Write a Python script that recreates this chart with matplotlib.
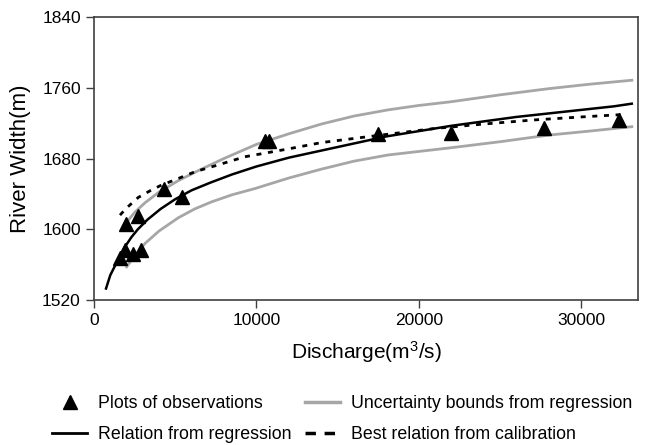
import matplotlib
matplotlib.use("Agg")
import matplotlib.pyplot as plt
from matplotlib.lines import Line2D

plt.rcParams['font.family'] = ['Liberation Sans', 'DejaVu Sans']
plt.rcParams['mathtext.fontset'] = 'custom'
plt.rcParams['mathtext.rm'] = 'Liberation Sans'
plt.rcParams['mathtext.it'] = 'Liberation Sans'

# Observations
obs_q = [1600, 1900, 2400, 2900, 2000, 2700, 4300, 5400, 10500, 10800, 17500, 22000, 27700, 32300]
obs_w = [1568, 1577, 1572, 1576, 1606, 1615, 1646, 1637, 1700, 1700, 1708, 1709, 1715, 1723]

# Relation from regression
reg_q = [740, 1000, 1300, 1600, 1900, 2300, 2700, 3300, 4100, 5000, 6000, 7200, 8500, 10000,
         12000, 14000, 16000, 18000, 20000, 22000, 24000, 26000, 28000, 30000, 32000, 33100]
reg_w = [1533, 1548, 1559, 1569, 1580, 1591, 1600, 1611, 1623, 1634, 1644, 1653, 1662, 1671,
         1681, 1689, 1697, 1705, 1711, 1717, 1722, 1727, 1731, 1735, 1739, 1742]

# Uncertainty bounds from regression
up_q = [2010, 2500, 3140, 4000, 5190, 6500, 8000, 9000, 10000, 12000, 14000, 16000, 18100,
        20000, 21900, 25000, 28000, 30500, 33100]
up_w = [1608, 1619, 1630, 1642, 1655, 1667, 1680, 1688, 1696, 1708, 1719, 1728, 1735,
        1740, 1744, 1752, 1759, 1764, 1768.5]
lo_q = [2010, 2500, 3140, 4000, 5190, 6200, 7240, 8500, 9900, 12000, 14000, 16000, 18100,
        20000, 21900, 25000, 28000, 30500, 33100]
lo_w = [1557.5, 1570, 1584, 1598, 1613, 1623, 1631, 1639, 1646, 1658, 1668, 1677, 1684,
        1688, 1692, 1699, 1706.5, 1711, 1716]

# Best relation from calibration
cal_q = [1600, 2000, 2725, 3500, 4160, 5000, 6210, 7500, 9290, 10500, 12000, 14000, 17000,
         19000, 21000, 24000, 27000, 30000, 32800]
cal_w = [1616, 1624, 1636, 1644, 1650, 1656, 1665, 1672, 1682, 1686, 1691, 1698, 1705,
         1709.5, 1714, 1719, 1723.5, 1727, 1730]

xticks = [0, 10000, 20000, 30000]
yticks = [1520, 1600, 1680, 1760, 1840]

fig = plt.figure(figsize=(6.51, 4.45), dpi=100)
ax = fig.add_axes([0.1444, 0.3258, 0.8361, 0.636])

gray = '#a6a6a6'
ax.plot(up_q, up_w, color=gray, lw=2)
ax.plot(lo_q, lo_w, color=gray, lw=2)
ax.plot(reg_q, reg_w, color='black', lw=1.8)
ax.plot(cal_q, cal_w, color='black', lw=2, linestyle=(0, (1.8, 2.4)))
ax.plot(obs_q, obs_w, linestyle='none', marker='^', color='black', markersize=10)

ax.set_xlim(0, 33500)
ax.set_ylim(1520, 1840)
ax.set_xticks(xticks)
ax.set_yticks(yticks)
ax.tick_params(direction='out', length=6, width=1, labelsize=12.5, color='#404040')
for s in ax.spines.values():
    s.set_color('#404040')
    s.set_linewidth(1.2)

ax.set_ylabel('River Width(m)', fontsize=16, labelpad=8)
ax.set_xlabel('Discharge(m$^3$/s)', fontsize=15, labelpad=8)

handles = [
    Line2D([], [], linestyle='none', marker='^', color='black', markersize=10),
    Line2D([], [], color='black', lw=2),
    Line2D([], [], color=gray, lw=2.5),
    Line2D([], [], color='black', lw=2.5, linestyle=(0, (3, 2.5))),
]
labels = ['Plots of observations', 'Relation from regression',
          'Uncertainty bounds from regression', 'Best relation from calibration']
fig.legend(handles, labels, ncol=2, loc='lower left', bbox_to_anchor=(0.055, -0.032),
           frameon=False, fontsize=12.8, handlelength=2.0, columnspacing=0.75,
           handletextpad=0.6, labelspacing=0.8)

fig.savefig('out.png', dpi=100)
